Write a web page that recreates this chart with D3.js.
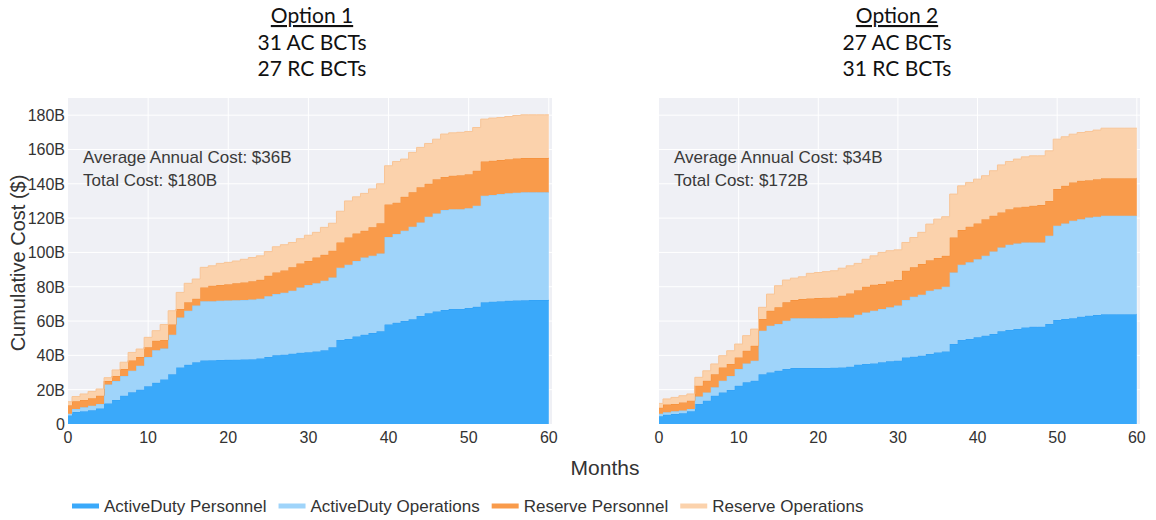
<!DOCTYPE html>
<html>
<head>
<meta charset="utf-8">
<script src="https://cdn.jsdelivr.net/npm/d3@7"></script>
<style>
  body { margin: 0; background: #fff; }
  svg { display: block; }
</style>
</head>
<body>
<div id="chart"></div>
<script>
// months 0..60, cumulative stack levels (top edge of each layer), $B
const months = d3.range(0, 61);

const opt1ADPers = [5,7,7.5,8,9,12,14,16.5,18.5,20,22,24,26,29,33,34.5,36,37,37.2,37.3,37.4,37.5,37.6,37.8,38.2,39,40,40.4,41,41.5,41.8,42.3,43,44.7,49,49.5,51,52,53,54,58,59,60,61,63,64.5,65.6,66.4,67,67,67.6,68.3,71,71.3,71.6,71.8,72,72.1,72.2,72.2,72.2];
const opt1ADOps = [6,8.7,9.7,10.7,11.7,23,25,28,31,34,39,43,44,52,62,66,69,71.5,71.5,71.8,72,72.1,72.2,72.5,73,74.5,75.7,76.5,77.7,79.6,81,82,83.5,85.4,91,92.8,95,97,98,99.4,109,110.7,112.6,115,117.5,120.8,122.7,124.7,125.2,125.2,125.8,127.2,133,133.4,134,134.5,134.8,135,135,135,135];
const opt1ResPers = [11,13.2,14,15,16.5,25,28,32,37,39,44.7,48.5,49,58,67,71,73,79.6,80.6,81,81.5,82,82.5,83.2,84,86.4,88.3,89.5,91.3,93.6,95,97,98.6,101,105.8,108.7,111,112.6,114.6,117,128,129,132.4,135,138,140,142.7,144,144.7,145,145.6,147.6,153,153.4,153.8,154.3,154.7,155,155,155,155];
const opt1ResOps = [13,16,17.5,19,20.4,27,31.5,36,41.7,43.7,50.5,54.4,58,66,76.7,82,84.5,91.3,92.2,93.6,94.2,95,96,97,98,100.5,103.3,104.5,105.8,108,110,111.7,114.6,117,124,130,132.4,134.4,137,140,150.5,153,154.4,158.3,161.2,163.5,166,169,169.7,170,170.5,172.8,177.7,178.3,178.6,179.2,179.8,180.2,180.2,180.2,180.2];

const opt2ADPers = [4.5,5.4,5.8,6.2,7.4,11.7,13.6,16.5,18.4,19.8,22.3,24.3,25.2,29,30,31,32,32.6,32.6,32.6,32.6,32.7,32.8,33,33.4,34.6,35,35.3,36,36.5,36.9,38.8,39.2,39.8,40.8,41.7,42.3,46.6,49,49.5,50.5,51.5,52.4,54,54.8,55.3,56.3,56.7,56.7,58.3,60.6,61.2,61.6,62.5,63.1,63.5,64,64,64,64,64];
const opt2ADOps = [6,6.8,7.4,7.8,8.7,16,18.4,21.4,25.2,28,32,35.3,36.9,54.4,57.3,58.3,60.2,61.6,61.6,61.6,61.6,61.7,61.8,62,62.1,63.7,65,66,67,68,69,72.2,74.2,75.3,77.7,78.6,80,88.3,92.8,94.2,96,98,100.6,102.9,104.5,105.2,105.8,105.8,105.8,109.7,115.5,116.9,118.4,119.4,120.4,120.8,121.4,121.4,121.4,121.4,121.4];
const opt2ResPers = [9.5,11.3,11.7,12.6,13.6,22.3,25.2,29,33,35,38.8,42.7,45.6,61.2,66,68,70.9,72.2,72.8,73.1,73.4,73.6,73.8,74.8,76.1,78,80,81.2,81.6,83.1,83.9,89.3,91.3,93.2,95.5,96.7,98,108.7,113,115,116.9,119.4,121.4,123.3,125.2,126.2,126.6,127.2,127.6,130,136.9,138.8,140.8,141.7,142.1,142.7,143.3,143.3,143.3,143.3,143.3];
const opt2ResOps = [12,14.6,15.5,16.5,17.5,27.2,31,35,39.8,42.7,46.6,51.5,55.3,68,75.7,80.6,83.9,85,85.8,87.8,88.3,88.8,89.3,90.8,92.2,93.6,96,98,100,101,101.5,105.8,108.7,111.7,116.5,119.4,120.8,134,138.8,140.8,142.7,144.7,147.6,151,153,154.4,155.7,156.3,156.3,159.2,166,167.4,168.9,169.9,170.5,171.3,172.4,172.4,172.4,172.4,172.4];

const seriesNames = ["ActiveDuty Personnel", "ActiveDuty Operations", "Reserve Personnel", "Reserve Operations"];
const colors = ["#3aa9fa", "#9fd4fa", "#f99b4b", "#fbd2ac"];
const lineColors = ["#2f9ff5", "#8ccbf7", "#f48d36", "#f8c597"];
const yTicks = [0, 20, 40, 60, 80, 100, 120, 140, 160, 180];
const xTicks = [0, 10, 20, 30, 40, 50, 60];

const panels = [
  {title: ["Option 1", "31 AC BCTs", "27 RC BCTs"], levels: [opt1ADPers, opt1ADOps, opt1ResPers, opt1ResOps],
   notes: ["Average Annual Cost: $36B", "Total Cost: $180B"], x0: 68, x1: 552, tx: 312, showY: true},
  {title: ["Option 2", "27 AC BCTs", "31 RC BCTs"], levels: [opt2ADPers, opt2ADOps, opt2ResPers, opt2ResOps],
   notes: ["Average Annual Cost: $34B", "Total Cost: $172B"], x0: 659, x1: 1140, tx: 897, showY: false}
];

const W = 1156, H = 520;
const font = "Liberation Sans, Arial, sans-serif";
const svg = d3.select("#chart").append("svg").attr("width", W).attr("height", H)
  .style("font-family", font);

const y = d3.scaleLinear().domain([0, 190]).range([424, 98]);

panels.forEach(p => {
  const x = d3.scaleLinear().domain([0, 60.4]).range([p.x0, p.x1]);
  const g = svg.append("g");

  g.append("rect")
    .attr("x", p.x0).attr("y", y(190))
    .attr("width", p.x1 - p.x0).attr("height", y(0) - y(190))
    .attr("fill", "#eff0f5");

  g.selectAll(".hgrid").data(yTicks.slice(1)).enter().append("line")
    .attr("x1", p.x0).attr("x2", p.x1)
    .attr("y1", d => y(d)).attr("y2", d => y(d))
    .attr("stroke", "#fff").attr("stroke-width", 1);
  g.selectAll(".vgrid").data(xTicks.slice(1)).enter().append("line")
    .attr("x1", d => x(d)).attr("x2", d => x(d))
    .attr("y1", y(0)).attr("y2", y(190))
    .attr("stroke", "#fff").attr("stroke-width", 1);

  // stacked layers: each between previous level and its own
  p.levels.forEach((lev, i) => {
    const below = i === 0 ? null : p.levels[i - 1];
    const area = d3.area()
      .curve(d3.curveStep)
      .x(d => x(d))
      .y0(d => y(below ? below[d] : 0))
      .y1(d => y(lev[d]));
    g.append("path").datum(months)
      .attr("d", area)
      .attr("fill", colors[i]);
    const line = d3.line().curve(d3.curveStep).x(d => x(d)).y(d => y(lev[d]));
    g.append("path").datum(months)
      .attr("d", line)
      .attr("fill", "none")
      .attr("stroke", lineColors[i])
      .attr("stroke-width", 1);
  });

  // x tick labels
  g.selectAll(".xt").data(xTicks).enter().append("text")
    .attr("x", d => x(d)).attr("y", 443)
    .attr("text-anchor", "middle")
    .attr("font-size", 16).attr("fill", "#333")
    .text(d => d);

  if (p.showY) {
    g.selectAll(".yt").data(yTicks).enter().append("text")
      .attr("x", p.x0 - 3).attr("y", d => y(d) + 6)
      .attr("text-anchor", "end")
      .attr("font-size", 16).attr("fill", "#333")
      .text(d => d === 0 ? "0" : d + "B");
  }

  // annotation
  p.notes.forEach((t, i) => {
    g.append("text")
      .attr("x", p.x0 + 15).attr("y", 163 + i * 23)
      .attr("font-size", 17).attr("fill", "#3a3a3a")
      .text(t);
  });

  // title block
  p.title.forEach((t, i) => {
    g.append("text")
      .attr("x", p.tx).attr("y", 23 + i * 26.5)
      .attr("text-anchor", "middle")
      .attr("font-family", "Lato, 'Open Sans', sans-serif")
      .attr("font-size", 21).attr("fill", "#111")
      .attr("text-decoration", i === 0 ? "underline" : null)
      .text(t);
  });
});

svg.append("text")
  .attr("transform", "translate(25,263) rotate(-90)")
  .attr("text-anchor", "middle")
  .attr("font-size", 20).attr("fill", "#333")
  .text("Cumulative Cost ($)");

svg.append("text")
  .attr("x", 605).attr("y", 475)
  .attr("text-anchor", "middle")
  .attr("font-size", 21).attr("fill", "#333")
  .text("Months");

// legend
let lx = 72;
seriesNames.forEach((name, i) => {
  svg.append("line")
    .attr("x1", lx).attr("x2", lx + 27)
    .attr("y1", 506).attr("y2", 506)
    .attr("stroke", colors[i]).attr("stroke-width", 5);
  const t = svg.append("text")
    .attr("x", lx + 32).attr("y", 512)
    .attr("font-size", 17).attr("fill", "#333")
    .text(name);
  lx = lx + 32 + t.node().getComputedTextLength() + 12;
});
</script>
</body>
</html>
